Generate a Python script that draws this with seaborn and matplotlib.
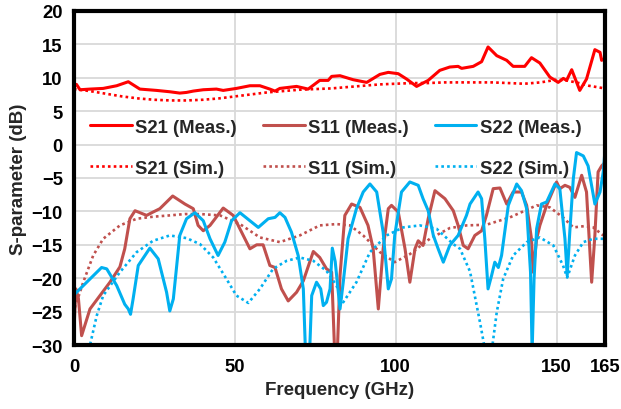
import matplotlib
matplotlib.use("Agg")
import matplotlib.pyplot as plt
import seaborn as sns

# ---- S21 ----
s21_meas_f = [0, 0.8, 1.9, 5.0, 9.1, 13.3, 16.9, 20.5, 25.7, 29.8,
              32.9, 35.0, 37.1, 40.2, 44.3, 46.4, 50.5, 54.7, 57.8, 60.9,
              62.5, 64.0, 69.2, 72.8, 76.4, 79.0, 80.1, 82.7, 86.8, 91.0,
              95.1, 97.7, 100.8, 103.4, 106.5, 110.1, 113.7, 116.8, 119.4, 120.5,
              124.1, 126.7, 128.7, 131.4, 134.5, 136.5, 140.1, 142.2, 144.8, 147.9,
              150.5, 152.1, 153.1, 154.7, 157.2, 159.3, 161.9, 163.5, 164.0, 165.0]
s21_meas_db = [8.7, 9.0, 8.2, 8.3, 8.4, 8.8, 9.4, 8.3, 8.1, 7.9,
               7.7, 7.8, 8.0, 8.2, 8.3, 8.1, 8.4, 8.8, 8.8, 8.3,
               8.0, 8.4, 8.7, 8.3, 9.6, 9.6, 10.2, 10.3, 9.7, 9.3,
               10.5, 10.8, 10.6, 9.8, 8.7, 9.6, 11.1, 11.6, 11.7, 11.4,
               11.7, 12.4, 14.6, 13.3, 12.6, 11.7, 11.7, 13.0, 12.2, 10.1,
               9.3, 9.9, 9.6, 11.2, 8.1, 9.8, 14.2, 13.8, 12.6, 12.9]

s21_sim_f = [0, 5, 10, 15, 20, 25, 30, 35, 40, 45,
             50, 55, 60, 65, 70, 75, 80, 85, 90, 95,
             100, 105, 110, 115, 120, 125, 130, 135, 140, 145,
             150, 153, 157, 160, 165]
s21_sim_db = [8.3, 8.0, 7.6, 7.2, 6.9, 6.7, 6.6, 6.6, 6.7, 6.9,
              7.2, 7.5, 7.8, 8.0, 8.2, 8.3, 8.4, 8.6, 8.8, 9.0,
              9.1, 9.2, 9.2, 9.3, 9.3, 9.3, 9.3, 9.2, 9.1, 9.3,
              9.7, 9.6, 9.2, 8.8, 8.4]

# ---- S11 ----
s11_meas_f = [0, 0.6, 1.4, 2.4, 5.0, 8.1, 11.2, 14.3, 15.8, 17.4,
              19.0, 22.6, 24.6, 26.7, 30.7, 34.5, 37.1, 38.6, 40.2, 42.3,
              46.4, 49.5, 52.1, 54.7, 56.8, 58.8, 60.9, 62.5, 64.5, 66.6,
              69.2, 71.3, 74.4, 76.4, 78.5, 80.1, 81.1, 81.8, 82.7, 84.2,
              86.3, 88.9, 91.4, 93.0, 94.6, 96.1, 97.7, 98.7, 100.8, 102.9,
              104.4, 106.0, 107.0, 108.5, 110.1, 112.2, 115.3, 117.9, 119.4, 121.0,
              122.5, 124.6, 126.7, 128.2, 130.3, 132.4, 134.5, 136.5, 139.1, 140.7,
              142.2, 142.7, 143.8, 144.8, 146.9, 150.0, 151.0, 152.6, 154.1, 155.7,
              157.8, 159.3, 160.9, 161.9, 162.9, 164.0, 165.0]
s11_meas_db = [-28.0, -21.6, -23.0, -28.6, -24.6, -22.6, -20.6, -18.3, -15.6, -11.1,
               -9.9, -10.6, -10.1, -9.6, -7.7, -8.9, -9.6, -12.1, -12.9, -12.1,
               -9.5, -10.6, -13.1, -15.6, -15.0, -15.0, -18.1, -18.4, -21.6, -23.4,
               -22.1, -20.4, -16.0, -16.9, -18.6, -19.1, -32.0, -32.0, -19.6, -10.6,
               -8.9, -9.4, -12.1, -15.6, -24.6, -15.6, -9.6, -9.1, -10.1, -15.6,
               -20.6, -15.6, -14.4, -15.1, -11.1, -6.9, -8.1, -9.9, -12.1, -15.1,
               -15.6, -13.6, -12.9, -10.6, -6.6, -6.5, -8.9, -7.1, -7.1, -9.1,
               -14.1, -19.1, -14.1, -12.1, -9.1, -5.6, -6.6, -6.1, -6.4, -7.9,
               -4.6, -7.1, -20.6, -13.6, -4.1, -3.2, -2.7]

s11_sim_f = [0.3, 2.9, 6.0, 9.1, 14.3, 19.5, 24.6, 29.8, 34.5, 39.2,
             45.4, 51.6, 57.8, 64.0, 70.2, 76.4, 81.6, 85.8, 89.9, 95.1,
             99.7, 104.4, 110.6, 116.8, 122.0, 128.2, 135.5, 143.8, 147.9, 152.0,
             155.2, 158.8, 161.4, 164.5]
s11_sim_db = [-24.4, -20.6, -16.6, -14.1, -12.1, -11.1, -10.8, -10.6, -10.4, -10.4,
              -10.6, -11.9, -13.9, -14.6, -13.6, -12.1, -11.9, -12.1, -13.6, -16.1,
              -17.6, -16.4, -14.1, -12.5, -12.1, -12.0, -10.9, -9.1, -9.4, -10.9,
              -12.4, -12.2, -12.4, -13.6]

# ---- S22 ----
s22_meas_f = [0, 8.6, 10.2, 13.3, 15.8, 16.9, 17.6, 18.4, 20.0, 23.6,
              26.2, 28.8, 29.8, 30.9, 32.9, 35.0, 37.6, 40.2, 42.3, 44.8,
              46.9, 49.0, 51.6, 54.7, 57.3, 60.4, 62.5, 64.0, 65.6, 67.6,
              69.7, 71.3, 72.1, 73.1, 73.9, 75.4, 76.7, 77.5, 78.5, 79.6,
              80.3, 81.2, 82.7, 83.7, 85.2, 87.8, 89.9, 92.0, 94.1, 96.1,
              97.7, 98.7, 99.7, 101.8, 104.4, 107.0, 108.5, 110.1, 111.7, 113.2,
              114.8, 116.8, 119.4, 122.0, 123.1, 125.6, 126.7, 127.7, 128.7, 129.8,
              130.8, 131.9, 132.9, 135.0, 137.6, 139.1, 140.7, 141.9, 142.4, 143.0,
              143.8, 145.3, 146.9, 149.5, 151.0, 152.6, 153.3, 154.1, 155.2, 156.2,
              158.3, 159.8, 161.9, 163.5, 164.5, 165.0]
s22_meas_db = [-22.5, -18.4, -18.6, -21.1, -23.9, -24.6, -25.4, -23.1, -18.1, -15.5,
               -17.1, -22.1, -24.9, -23.1, -13.6, -11.1, -10.2, -11.4, -14.1, -16.6,
               -14.6, -11.4, -10.2, -11.4, -12.4, -11.1, -10.9, -10.2, -10.9, -13.1,
               -16.6, -21.6, -33.0, -33.0, -22.6, -20.6, -21.6, -24.1, -23.6, -21.6,
               -15.5, -17.5, -24.6, -20.6, -14.1, -9.6, -7.1, -5.9, -7.1, -13.1,
               -21.6, -20.1, -13.6, -7.1, -5.6, -6.1, -8.1, -9.9, -13.6, -15.6,
               -17.6, -15.1, -13.6, -10.6, -8.9, -7.1, -8.1, -14.1, -21.6, -19.6,
               -17.6, -18.4, -16.6, -9.1, -5.9, -6.9, -9.6, -19.1, -31.0, -20.1,
               -12.6, -8.9, -8.6, -5.9, -6.6, -14.1, -19.6, -13.1, -5.1, -1.2,
               -1.7, -3.2, -8.9, -7.1, -4.1, -1.1]

s22_sim_f = [3.0, 5.0, 7.1, 9.1, 14.3, 19.5, 24.6, 29.8, 35.0, 39.2,
             43.3, 47.4, 50.5, 54.2, 57.8, 61.9, 66.1, 70.2, 74.4, 78.5,
             81.6, 83.7, 87.8, 92.0, 97.2, 102.3, 107.5, 112.7, 117.9, 120.0,
             123.1, 126.2, 129.0, 131.4, 133.4, 136.5, 140.7, 144.8, 149.0, 152.0,
             153.3, 155.7, 158.3, 161.4, 165.0]
s22_sim_db = [-35.0, -30.0, -25.6, -22.6, -19.1, -16.1, -14.4, -13.6, -14.0, -14.9,
              -16.9, -20.1, -22.6, -23.7, -21.6, -18.6, -17.4, -16.9, -17.4, -18.9,
              -21.1, -23.6, -20.6, -16.1, -13.6, -12.4, -12.1, -12.6, -14.9, -15.6,
              -19.0, -26.6, -34.0, -25.1, -20.1, -16.6, -14.6, -13.9, -15.1, -18.1,
              -19.9, -16.6, -14.6, -14.1, -14.1]

x_ticks = [0, 50, 100, 150, 165]
y_ticks = [-30, -25, -20, -15, -10, -5, 0, 5, 10, 15, 20]

RED = "#FF0000"
BROWN = "#C0504D"
BLUE = "#00B0F0"

sns.set_theme(style="white")
plt.rcParams["font.family"] = ["Liberation Sans", "DejaVu Sans"]
plt.rcParams["font.weight"] = "bold"

fig = plt.figure(figsize=(6.21, 4.10), dpi=100)
ax = fig.add_axes([0.119, 0.156, 0.855, 0.815])

solid_lw = 2.2
dot_lw = 1.9
dot_style = (0, (1, 1.2))

series = [
    (s21_meas_f, s21_meas_db, RED, "-", "S21 (Meas.)"),
    (s21_sim_f, s21_sim_db, RED, dot_style, "S21 (Sim.)"),
    (s11_meas_f, s11_meas_db, BROWN, "-", "S11 (Meas.)"),
    (s11_sim_f, s11_sim_db, BROWN, dot_style, "S11 (Sim.)"),
    (s22_meas_f, s22_meas_db, BLUE, "-", "S22 (Meas.)"),
    (s22_sim_f, s22_sim_db, BLUE, dot_style, "S22 (Sim.)"),
]
for fx, fy, col, ls, lab in series:
    lw = solid_lw if ls == "-" else dot_lw
    sns.lineplot(x=fx, y=fy, ax=ax, color=col, linestyle=ls, linewidth=lw,
                 label=lab, sort=False, estimator=None)

ax.set_xlim(0, 165)
ax.set_ylim(-30, 20)
ax.set_xticks(x_ticks)
ax.set_yticks(y_ticks)
ax.grid(True, color="#D9D9D9", linewidth=1.3)
ax.set_axisbelow(True)
for sp in ax.spines.values():
    sp.set_visible(True)
    sp.set_color("black")
    sp.set_linewidth(3.0)

ax.tick_params(axis="both", length=0, labelsize=13.3, colors="black")
ax.tick_params(axis="x", pad=9)
ax.tick_params(axis="y", pad=8)
for t in ax.get_xticklabels() + ax.get_yticklabels():
    t.set_fontweight("bold")

ax.set_xlabel("Frequency (GHz)", fontsize=13.5, fontweight="bold", labelpad=5)
ax.set_ylabel("S-parameter (dB)", fontsize=13.5, fontweight="bold", labelpad=3)

leg = ax.legend(ncol=3, loc="center", bbox_to_anchor=(0.4935, 0.591),
                frameon=False, fontsize=13.3, handlelength=2.25,
                handletextpad=0.2, columnspacing=1.4, labelspacing=1.3)
for t in leg.get_texts():
    t.set_fontweight("bold")

fig.savefig("out.png", dpi=100)
